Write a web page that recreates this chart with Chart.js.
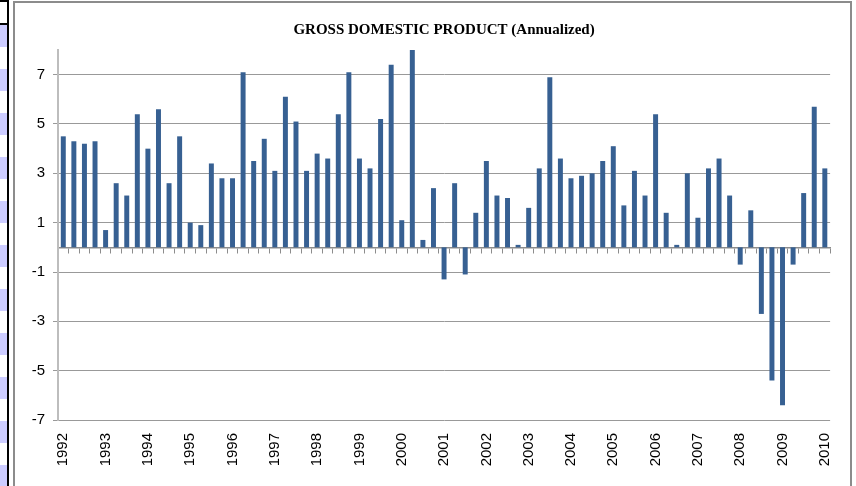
<!DOCTYPE html>
<html>
<head>
<meta charset="utf-8">
<script src="https://cdn.jsdelivr.net/npm/chart.js@4"></script>
<style>
  html, body { margin: 0; padding: 0; background: #fff; }
  body { width: 856px; height: 486px; position: relative; overflow: hidden; }
  /* spreadsheet row strip on the left edge */
  .strip { position: absolute; left: 0; top: 25px; width: 7px; height: 461px;
    background: repeating-linear-gradient(to bottom, #ccccff 0 22px, #fff 22px 44px); }
  .edge { position: absolute; left: 7px; top: 0; width: 2px; height: 486px; background: #000; }
  .corner { position: absolute; left: 0; width: 9px; height: 2px; background: #000; }
  .frame { position: absolute; left: 13px; top: 1px; width: 835px; height: 500px; border: 2px solid #8c8c8c; }
  canvas { position: absolute; left: 0; top: 0; }
</style>
</head>
<body>
<div class="strip"></div>
<div class="edge"></div>
<div class="corner" style="top:0"></div>
<div class="corner" style="top:23px"></div>
<div class="frame"></div>
<canvas id="gdp" width="856" height="486"></canvas>
<script>
// Годы на оси X (подпись ставится у первого квартала)
const years = ["1992", "1993", "1994", "1995", "1996", "1997", "1998", "1999", "2000", "2001",
  "2002", "2003", "2004", "2005", "2006", "2007", "2008", "2009", "2010"]
const quarterNames = ["Q1", "Q2", "Q3", "Q4"]

// Рост ВВП, % годовых, 1992 Q1 .. 2010 Q1
const gdpGrowth = [
  4.5, 4.3, 4.2, 4.3,
  0.7, 2.6, 2.1, 5.4,
  4.0, 5.6, 2.6, 4.5,
  1.0, 0.9, 3.4, 2.8,
  2.8, 7.1, 3.5, 4.4,
  3.1, 6.1, 5.1, 3.1,
  3.8, 3.6, 5.4, 7.1,
  3.6, 3.2, 5.2, 7.4,
  1.1, 8.0, 0.3, 2.4,
  -1.3, 2.6, -1.1, 1.4,
  3.5, 2.1, 2.0, 0.1,
  1.6, 3.2, 6.9, 3.6,
  2.8, 2.9, 3.0, 3.5,
  4.1, 1.7, 3.1, 2.1,
  5.4, 1.4, 0.1, 3.0,
  1.2, 3.2, 3.6, 2.1,
  -0.7, 1.5, -2.7, -5.4,
  -6.4, -0.7, 2.2, 5.7,
  3.2
]

const yTicks = [-7, -5, -3, -1, 1, 3, 5, 7]

const labels = years.flatMap(y => quarterNames.map(q => `${y} ${q}`)).slice(0, gdpGrowth.length)

const sansFont = "'Liberation Sans', Arial, sans-serif"

new Chart(document.getElementById("gdp"), {
  type: "bar",
  data: {
    labels,
    datasets: [{
      data: gdpGrowth,
      backgroundColor: "#376092",
      barPercentage: 0.47,
      categoryPercentage: 1
    }]
  },
  options: {
    responsive: false,
    animation: false,
    devicePixelRatio: 1,
    layout: { padding: { left: 0, right: 25, top: 0, bottom: 0 } },
    plugins: {
      legend: { display: false },
      tooltip: { enabled: false },
      title: {
        display: true,
        fullSize: false,
        text: "GROSS DOMESTIC PRODUCT (Annualized)",
        color: "#000",
        font: { family: "'Liberation Serif', 'Times New Roman', serif", size: 15, weight: "bold", lineHeight: 1.2 },
        padding: { top: 21, bottom: 11 }
      }
    },
    scales: {
      // подписи лет внизу
      x: {
        position: "bottom",
        grid: { display: false, drawTicks: false },
        border: { display: false },
        ticks: {
          autoSkip: false,
          minRotation: 90,
          maxRotation: 90,
          padding: 13,
          color: "#000",
          font: { family: sansFont, size: 15 },
          callback: (value, index) => index % 4 === 0 ? labels[index].slice(0, 4) : ""
        },
        afterFit: scale => { scale.height = 66 }
      },
      // нулевая линия с засечками между кварталами
      x0: {
        type: "category",
        axis: "x",
        position: { y: 0 },
        offset: true,
        grid: { offset: true, drawOnChartArea: false, drawTicks: true, tickLength: 5, color: "#8c8c8c" },
        border: { display: true, color: "#8c8c8c", width: 1.5 },
        ticks: { display: false }
      },
      y: {
        min: -7,
        max: 8,
        afterBuildTicks: scale => { scale.ticks = yTicks.map(v => ({ value: v })) },
        afterFit: scale => { scale.width = 58 },
        grid: { color: "#999", lineWidth: 1, tickLength: 5 },
        border: { color: "#bdbdbd", width: 2 },
        ticks: {
          padding: 8,
          color: "#000",
          font: { family: sansFont, size: 15 }
        }
      }
    }
  }
})
</script>
</body>
</html>
